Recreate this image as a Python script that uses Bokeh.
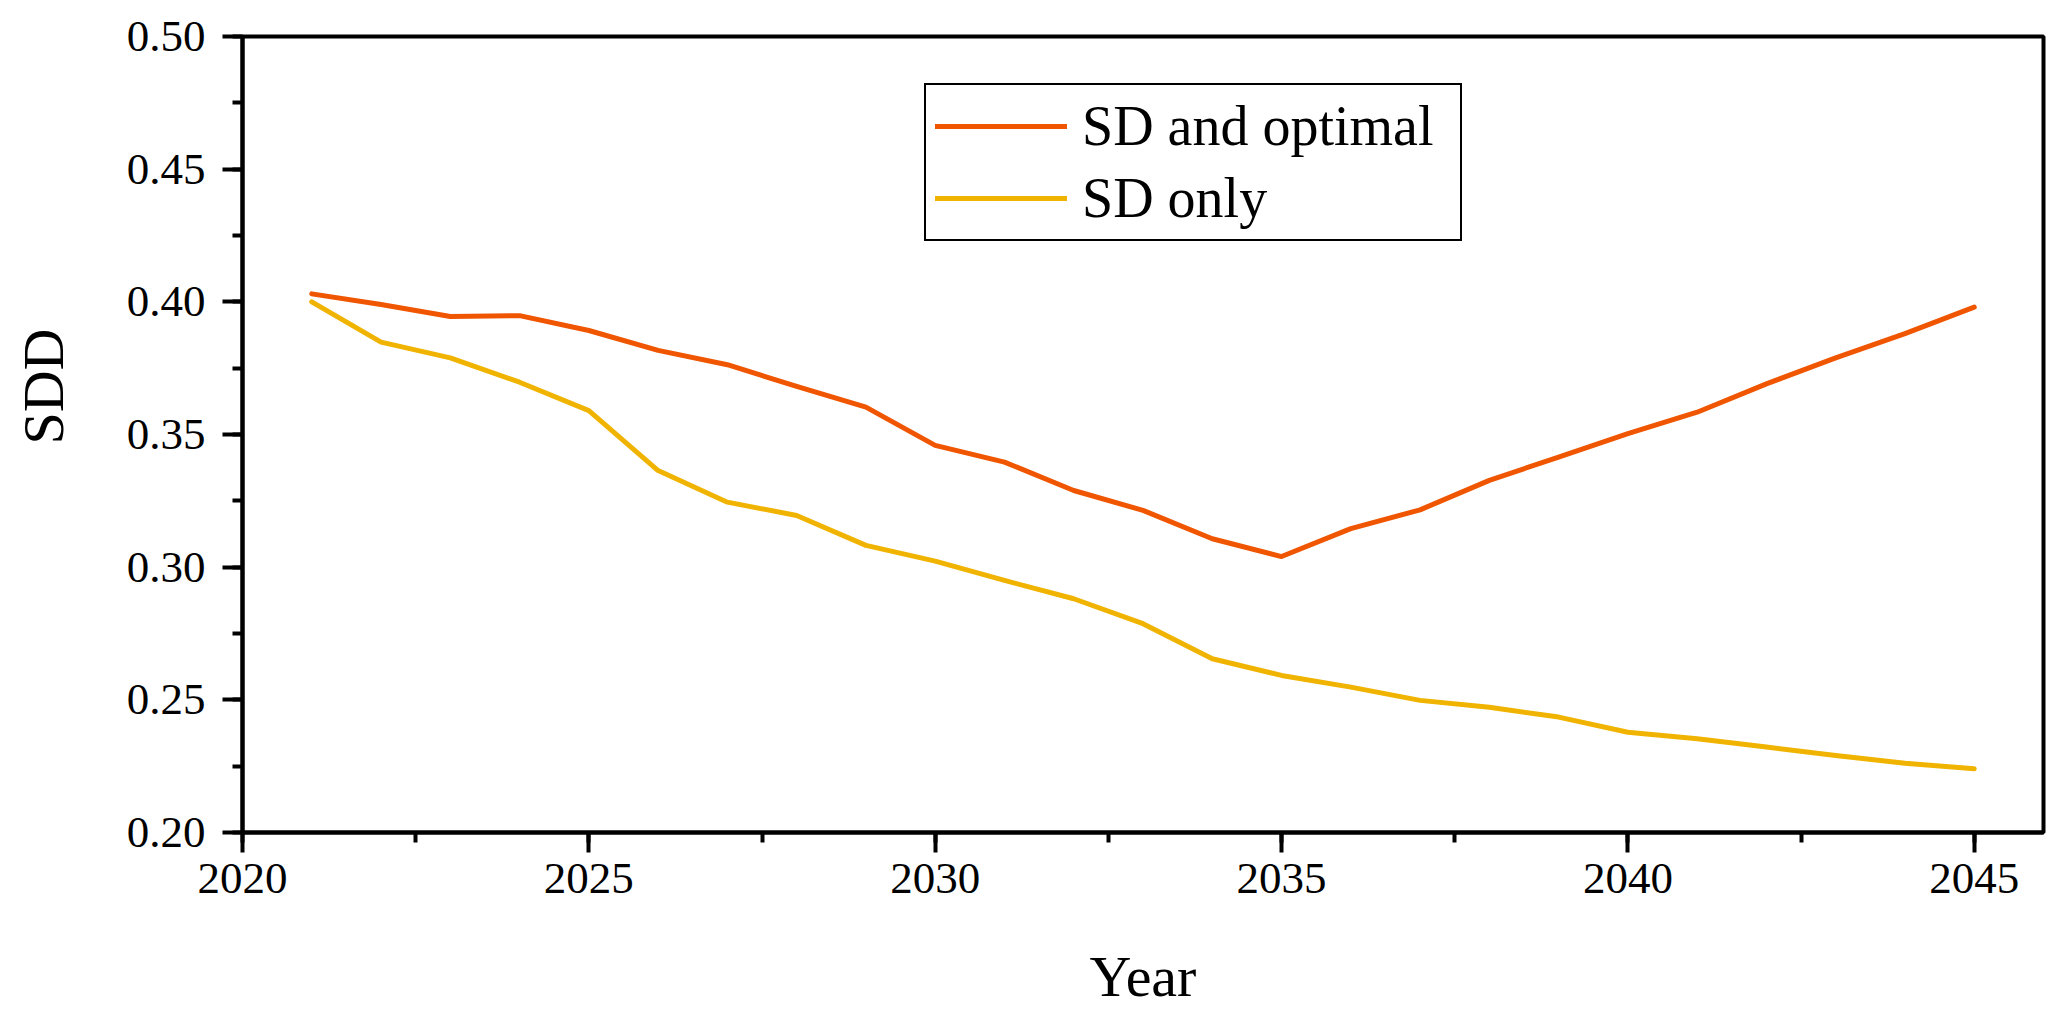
from bokeh.plotting import figure
from bokeh.models import (ColumnDataSource, SingleIntervalTicker, PrintfTickFormatter,
                          Legend, LegendItem, Range1d, Title)
from bokeh.embed import file_html
from bokeh.resources import INLINE

# ---- data ----
years = [2021, 2022, 2023, 2024, 2025, 2026, 2027, 2028, 2029, 2030, 2031, 2032, 2033,
         2034, 2035, 2036, 2037, 2038, 2039, 2040, 2041, 2042, 2043, 2044, 2045]
sd_and_optimal = [0.403, 0.399, 0.3945, 0.3948, 0.3892, 0.3817, 0.3763, 0.3681, 0.3603,
                  0.3459, 0.3396, 0.3289, 0.3214, 0.3107, 0.3040, 0.3145, 0.3216, 0.3327,
                  0.3415, 0.3503, 0.3584, 0.3691, 0.3789, 0.3880, 0.3980]
sd_only = [0.400, 0.3848, 0.3789, 0.3697, 0.3590, 0.3364, 0.3245, 0.3195, 0.3082,
           0.3023, 0.2950, 0.2881, 0.2787, 0.2655, 0.2592, 0.2548, 0.2498, 0.2472,
           0.2435, 0.2378, 0.2353, 0.2322, 0.2290, 0.2261, 0.2240]
series_names = ["SD and optimal", "SD only"]
series_colors = ["#F05500", "#F0B400"]
x_label = "Year"
y_label = "SDD"

FONT = "Liberation Serif"

p = figure(width=2059, height=1012, output_backend="svg", toolbar_location=None,
           x_range=Range1d(2020, 2046), y_range=Range1d(0.20, 0.50),
           min_border_left=241, min_border_right=16, min_border_top=36, min_border_bottom=180)
p.background_fill_color = "white"
p.border_fill_color = "white"
p.xgrid.visible = False
p.ygrid.visible = False
p.outline_line_color = "black"
p.outline_line_width = 4
p.outline_line_alpha = 1.0

src = ColumnDataSource(dict(x=years, a=sd_and_optimal, b=sd_only))
r1 = p.line("x", "a", source=src, line_color=series_colors[0], line_width=5,
            line_join="round", line_cap="round")
r2 = p.line("x", "b", source=src, line_color=series_colors[1], line_width=5,
            line_join="round", line_cap="round")

# axes
xa = p.xaxis[0]
ya = p.yaxis[0]
xa.ticker = SingleIntervalTicker(interval=5, num_minor_ticks=2)
ya.ticker = SingleIntervalTicker(interval=0.05, num_minor_ticks=2)
ya.formatter = PrintfTickFormatter(format="%.2f")
for ax in (xa, ya):
    ax.axis_line_width = 4
    ax.axis_line_color = "black"
    ax.major_tick_line_width = 4
    ax.minor_tick_line_width = 4
    ax.major_tick_line_color = "black"
    ax.minor_tick_line_color = "black"
    ax.major_tick_out = 20
    ax.major_tick_in = 0
    ax.minor_tick_out = 10
    ax.minor_tick_in = 0
    ax.major_label_text_font = FONT
    ax.major_label_text_font_size = "45px"
    ax.major_label_text_color = "black"
    ax.axis_label_text_font = FONT
    ax.axis_label_text_font_size = "58px"
    ax.axis_label_text_font_style = "normal"
    ax.axis_label_text_color = "black"
xa.major_label_standoff = 11
ya.major_label_standoff = 17
xa.axis_label = x_label
xa.axis_label_standoff = 48
# blank spacer label on the y axis to push the title further left
ya.axis_label = " "
ya.axis_label_text_font_size = "28px"
ya.axis_label_standoff = 2

# y axis title, placed above the frame centre as in the reference
ytitle = Title(text=y_label, align="right", offset=292, vertical_align="top",
               standoff=20, text_font=FONT, text_font_size="58px",
               text_font_style="normal", text_color="black")
p.add_layout(ytitle, "left")

legend = Legend(items=[LegendItem(label=series_names[0], renderers=[r1]),
                       LegendItem(label=series_names[1], renderers=[r2])],
                location=(682, 591), orientation="vertical")
legend.label_text_font = FONT
legend.label_text_font_size = "56px"
legend.label_text_color = "black"
legend.glyph_width = 132
legend.glyph_height = 62
legend.label_height = 62
legend.label_width = 369
legend.label_standoff = 15
legend.spacing = 8
legend.padding = 9
legend.margin = 0
legend.border_line_color = "black"
legend.border_line_alpha = 1.0
legend.border_line_width = 2
legend.background_fill_color = "white"
legend.background_fill_alpha = 1.0
p.add_layout(legend, "center")

open("out.html", "w").write(file_html(p, INLINE))
